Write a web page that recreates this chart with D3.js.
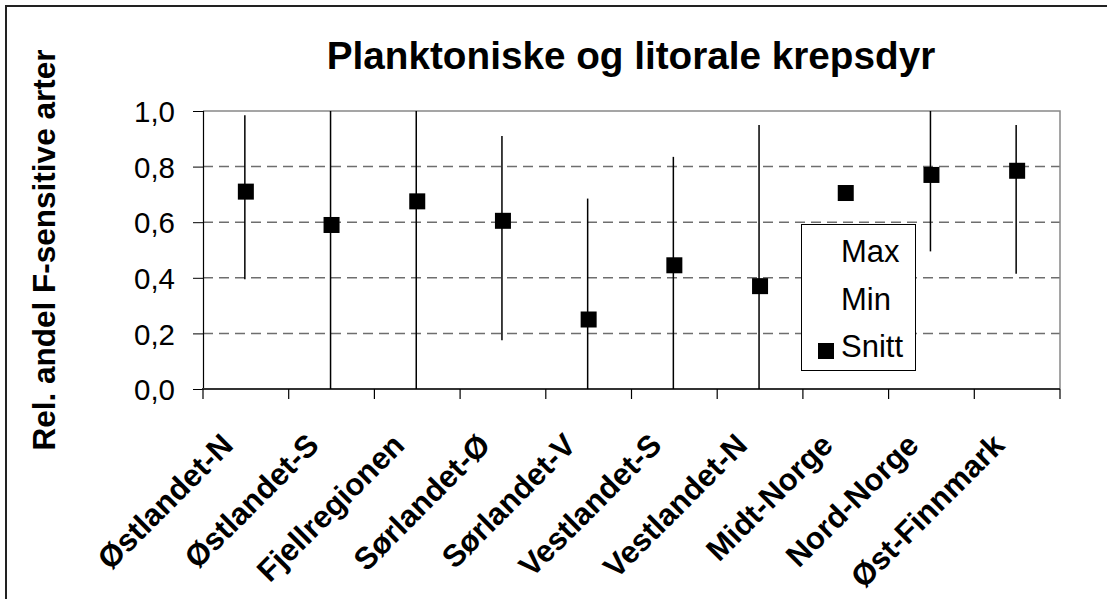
<!DOCTYPE html>
<html>
<head>
<meta charset="utf-8">
<script src="https://cdn.jsdelivr.net/npm/d3@7"></script>
<style>
  body { margin: 0; background: #fff; }
  svg { display: block; font-family: "Liberation Sans", Arial, sans-serif; }
</style>
</head>
<body>
<div id="chart"></div>
<script>
// data
var categories = ["Østlandet-N", "Østlandet-S", "Fjellregionen", "Sørlandet-Ø", "Sørlandet-V",
                  "Vestlandet-S", "Vestlandet-N", "Midt-Norge", "Nord-Norge", "Øst-Finnmark"];
var snitt   = [0.71, 0.59, 0.675, 0.605, 0.25, 0.445, 0.37, 0.705, 0.77, 0.785];
var maxVals = [0.985, 1.0, 1.0, 0.91, 0.685, 0.835, 0.95, 0.705, 1.0, 0.95];
var minVals = [0.395, 0.0, 0.0, 0.175, 0.0, 0.0, 0.0, 0.705, 0.495, 0.415];
var yTicks  = [0, 0.2, 0.4, 0.6, 0.8, 1.0];
var legendLabels = ["Max", "Min", "Snitt"];

var width = 1107, height = 599;
var plot = {left: 203, right: 1060, top: 111, bottom: 389};

var svg = d3.select('#chart').append('svg')
            .attr('width', width)
            .attr('height', height);

// outer frame (runs off the right and bottom)
svg.append('rect')
   .attr('x', 6).attr('y', 6)
   .attr('width', width + 20).attr('height', height + 20)
   .attr('fill', 'none').attr('stroke', '#222').attr('stroke-width', 2);

var x = d3.scaleBand().domain(categories).range([plot.left, plot.right]).padding(0);
var y = d3.scaleLinear().domain([0, 1]).range([plot.bottom, plot.top]);
var cx = function(c) { return x(c) + x.bandwidth() / 2; };

// gridlines
svg.append('g')
   .selectAll('line')
   .data(yTicks.filter(function(t) { return t > 0 && t < 1; }))
   .enter().append('line')
   .attr('x1', plot.left).attr('x2', plot.right)
   .attr('y1', d => y(d)).attr('y2', d => y(d))
   .attr('stroke', '#6e6e6e').attr('stroke-width', 1.5)
   .attr('stroke-dasharray', '10,6');

// plot area border top/right
svg.append('path')
   .attr('d', `M${plot.left},${plot.top}H${plot.right}V${plot.bottom}`)
   .attr('fill', 'none').attr('stroke', '#888').attr('stroke-width', 1.5);

// y axis
var yAxis = d3.axisLeft(y)
              .tickValues(yTicks)
              .tickSize(10)
              .tickPadding(18)
              .tickFormat(d => d3.format('.1f')(d).replace('.', ','));
var ya = svg.append('g').attr('transform', `translate(${plot.left},0)`).call(yAxis);
ya.select('.domain').attr('stroke', '#000').attr('stroke-width', 1.2);
ya.selectAll('.tick line').attr('stroke', '#000');
ya.selectAll('.tick text')
  .attr('font-size', 29.5).attr('fill', '#000')
  .attr('font-family', '"Liberation Sans", Arial, sans-serif')
  .attr('dy', '0.36em');

// x axis: ticks at category boundaries
var xa = svg.append('g');
xa.append('line')
  .attr('x1', plot.left - 1).attr('x2', plot.right)
  .attr('y1', plot.bottom).attr('y2', plot.bottom)
  .attr('stroke', '#333').attr('stroke-width', 2);
xa.selectAll('.xtick')
  .data(categories.concat(['__end']))
  .enter().append('line')
  .attr('class', 'xtick')
  .attr('x1', d => d === '__end' ? plot.right : x(d))
  .attr('x2', d => d === '__end' ? plot.right : x(d))
  .attr('y1', plot.bottom).attr('y2', plot.bottom + 10)
  .attr('stroke', '#000').attr('stroke-width', 1.2);

xa.selectAll('.xlabel')
  .data(categories)
  .enter().append('text')
  .attr('class', 'xlabel')
  .attr('transform', d => `translate(${cx(d) - 11},${plot.bottom + 58}) rotate(-45)`)
  .attr('text-anchor', 'end')
  .attr('font-size', 31).attr('font-weight', 'bold')
  .text(d => d);

// error bars (min-max)
svg.append('g')
   .selectAll('line')
   .data(categories)
   .enter().append('line')
   .attr('x1', d => cx(d) - 1).attr('x2', d => cx(d) - 1)
   .attr('y1', (d, i) => y(maxVals[i]))
   .attr('y2', (d, i) => y(minVals[i]))
   .attr('stroke', '#000').attr('stroke-width', 1.5);

// mean markers
svg.append('g')
   .selectAll('rect')
   .data(categories)
   .enter().append('rect')
   .attr('x', d => cx(d) - 8)
   .attr('y', (d, i) => y(snitt[i]) - 8)
   .attr('width', 16).attr('height', 16)
   .attr('fill', '#000');

// legend
var lg = svg.append('g');
lg.append('rect')
  .attr('x', 801.5).attr('y', 224.5).attr('width', 114).attr('height', 146)
  .attr('fill', '#fff').attr('stroke', '#000').attr('stroke-width', 1);
lg.selectAll('text')
  .data(legendLabels)
  .enter().append('text')
  .attr('x', 841)
  .attr('y', (d, i) => 262 + i * 47.5)
  .attr('font-size', 31)
  .text(d => d);
lg.append('rect')
  .attr('x', 818).attr('y', 343).attr('width', 16).attr('height', 16)
  .attr('fill', '#000');

// title
svg.append('text')
   .attr('x', 631).attr('y', 69)
   .attr('text-anchor', 'middle')
   .attr('font-size', 38.7).attr('font-weight', 'bold')
   .text('Planktoniske og litorale krepsdyr');

// y title
svg.append('text')
   .attr('transform', 'translate(55,250) rotate(-90)')
   .attr('text-anchor', 'middle')
   .attr('font-size', 31.5).attr('font-weight', 'bold')
   .text('Rel. andel F-sensitive arter');
</script>
</body>
</html>
